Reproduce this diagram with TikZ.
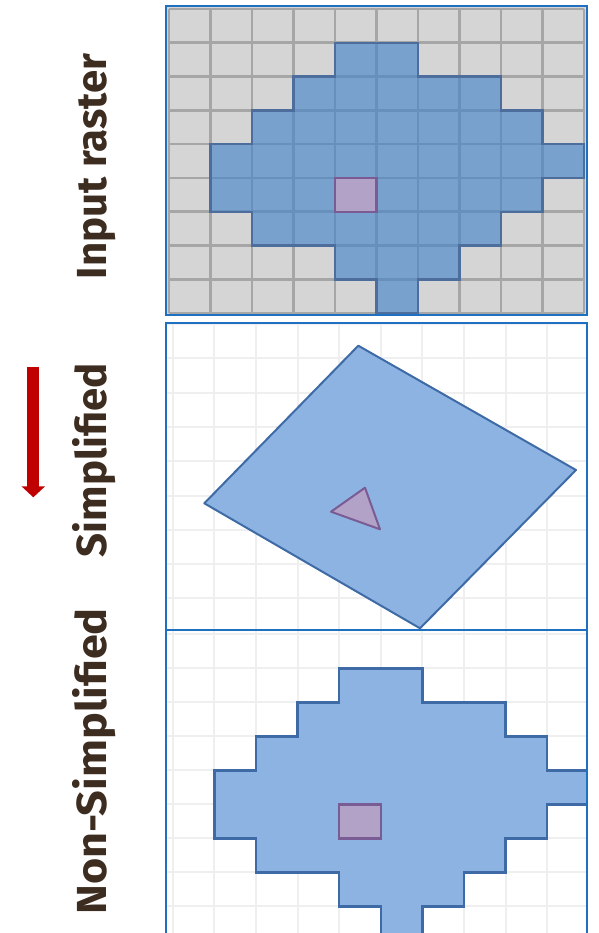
\documentclass[tikz,border=0pt]{standalone}
\usepackage{fontspec}
\setsansfont{Fira Sans}
\usetikzlibrary{arrows.meta,positioning}

\definecolor{framebl}{HTML}{1F70C1}
\definecolor{cellgray}{HTML}{D5D5D5}
\definecolor{gridgray}{HTML}{A6A6A6}
\definecolor{rasterbl}{HTML}{4584CA}
\definecolor{edgebl}{HTML}{4D6E9C}
\definecolor{polybl}{HTML}{8DB3E2}
\definecolor{polyedge}{HTML}{3E6BA5}
\definecolor{seedpu}{HTML}{B3A2C7}
\definecolor{seededge}{HTML}{7A5C94}
\definecolor{lightgrid}{HTML}{EFEFEF}
\definecolor{labelbr}{HTML}{3D2C20}
\definecolor{arrowred}{HTML}{C00000}

% raster region, in cell units
\newcommand{\blobshape}[1]{%
  \draw[#1] (4,1) -- (6,1) -- (6,2) -- (8,2) -- (8,3) -- (9,3) -- (9,4) -- (10,4)
    -- (10,5) -- (9,5) -- (9,6) -- (8,6) -- (8,7) -- (7,7) -- (7,8) -- (6,8) -- (6,9)
    -- (5,9) -- (5,8) -- (4,8) -- (4,7) -- (2,7) -- (2,6) -- (1,6) -- (1,4) -- (2,4)
    -- (2,3) -- (3,3) -- (3,2) -- (4,2) -- cycle;}

\tikzset{
  panellabel/.style={rotate=90,anchor=base,inner sep=0pt,text=labelbr,
    font=\sffamily\bfseries\fontsize{42}{42}\selectfont},
  panelframe/.style={draw=framebl,line width=2.4pt},
  seedcell/.style={fill=seedpu,draw=seededge,line width=2.4pt}
}

\begin{document}
\begin{tikzpicture}[x=1pt,y=-1pt]
    \useasboundingbox (0,0) rectangle (598,933);
    \clip (0,0) rectangle (598,933);

    % input raster
    \fill[cellgray] (166,6) rectangle (587,315);
    \begin{scope}[shift={(169,9)},x=41.5pt,y=-33.8pt]
        \foreach \c in {0,...,10} \draw[gridgray,line width=2.6pt] (\c,0) -- (\c,9);
        \foreach \r in {0,...,9} \draw[gridgray,line width=2.6pt] (0,\r) -- (10,\r);
        \blobshape{fill=rasterbl,fill opacity=0.64,draw=none}
        \blobshape{draw=edgebl,line width=2.4pt}
        \draw[seedcell] (4,5) rectangle (5,6);
    \end{scope}

    % simplified polygon
    \begin{scope}
        \clip (166,323) rectangle (587,630);
        \foreach \c in {0,...,10} \draw[lightgrid,line width=2pt] ({172.7+41.6*\c},323) -- ++(0,307);
        \foreach \r in {0,...,9} \draw[lightgrid,line width=2pt] (166,{324+34.3*\r}) -- ++(421,0);
    \end{scope}
    \draw[fill=polybl,draw=polyedge,line width=2pt,line join=round]
        (358.3,345.7) -- (576,470) -- (420,628.3) -- (204.3,503.3) -- cycle;
    \draw[fill=seedpu,draw=seededge,line width=2pt,line join=round]
        (331,511.7) -- (365,487.7) -- (380,529.3) -- cycle;

    % non-simplified polygon
    \begin{scope}
        \clip (166,630) rectangle (587,933);
        \foreach \c in {0,...,10} \draw[lightgrid,line width=2pt] ({172.7+41.6*\c},630) -- ++(0,310);
        \foreach \r in {0,...,9} \draw[lightgrid,line width=2pt] (166,{634.3+34*\r}) -- ++(421,0);
        \begin{scope}[shift={(172.7,634.3)},x=41.6pt,y=-34pt]
            \blobshape{fill=polybl,draw=polyedge,line width=2.4pt}
            \draw[seedcell] (4,5) rectangle (5,6);
        \end{scope}
    \end{scope}

    % panel frames
    \draw[panelframe] (166,6) rectangle (587,315);
    \draw[panelframe] (166,323) rectangle (587,630);
    \draw[panelframe] (166,630) rectangle (587,950);

    % labels
    \node[panellabel] (lblraster) at (106,166.5) {Input raster};
    \node[panellabel] (lblsimp) at (106,460) {Simplified};
    \node[panellabel] (lblnonsimp) at (106,761.5) {\scalebox{1.07}[1]{Non-Simplified}};

    % direction arrow
    \coordinate (arrtop) at (33.3,366.7);
    \coordinate (arrbot) at (33.3,497.3);
    \draw[arrowred,line width=12pt,-{Triangle[width=23pt,length=11pt]}] (arrtop) -- (arrbot);
\end{tikzpicture}
\end{document}
